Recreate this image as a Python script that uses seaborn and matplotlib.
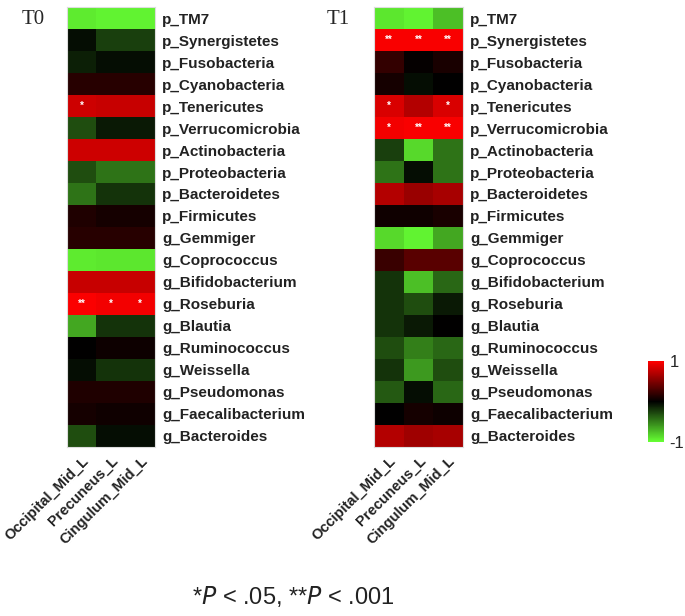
import numpy as np
import pandas as pd
import matplotlib
matplotlib.use('Agg')
import matplotlib.pyplot as plt
import seaborn as sns
from matplotlib.colors import LinearSegmentedColormap

# taxa (rows) and brain regions (columns)
taxa = ['p_TM7', 'p_Synergistetes', 'p_Fusobacteria', 'p_Cyanobacteria',
        'p_Tenericutes', 'p_Verrucomicrobia', 'p_Actinobacteria',
        'p_Proteobacteria', 'p_Bacteroidetes', 'p_Firmicutes', 'g_Gemmiger',
        'g_Coprococcus', 'g_Bifidobacterium', 'g_Roseburia', 'g_Blautia',
        'g_Ruminococcus', 'g_Weissella', 'g_Pseudomonas',
        'g_Faecalibacterium', 'g_Bacteroides']
regions = ['Occipital_Mid_L', 'Precuneus_L', 'Cingulum_Mid_L']

# correlations at T0
t0_occipital = [-0.92, -0.05, -0.12, 0.15, 0.80, -0.30, 0.80, -0.30, -0.45, 0.12,
                0.15, -0.92, 0.78, 0.98, -0.65, 0.00, -0.05, 0.12, 0.08, -0.30]
t0_precuneus = [-0.95, -0.25, -0.05, 0.15, 0.78, -0.10, 0.80, -0.45, -0.20, 0.08,
                0.15, -0.90, 0.78, 0.95, -0.20, 0.05, -0.20, 0.12, 0.06, -0.05]
t0_cingulum = [-0.95, -0.25, -0.05, 0.15, 0.78, -0.10, 0.80, -0.45, -0.20, 0.08,
               0.15, -0.90, 0.78, 0.95, -0.20, 0.05, -0.20, 0.12, 0.06, -0.05]

# correlations at T1
t1_occipital = [-0.90, 0.97, 0.20, 0.08, 0.85, 0.95, -0.25, -0.45, 0.70, 0.06,
                -0.85, 0.22, -0.20, -0.20, -0.20, -0.30, -0.20, -0.35, 0.00, 0.70]
t1_precuneus = [-0.95, 0.97, 0.02, -0.05, 0.70, 0.97, -0.85, -0.05, 0.60, 0.06,
                -0.95, 0.35, -0.75, -0.30, -0.10, -0.50, -0.60, -0.05, 0.08, 0.62]
t1_cingulum = [-0.75, 0.97, 0.10, 0.00, 0.85, 0.97, -0.45, -0.45, 0.65, 0.10,
               -0.65, 0.35, -0.40, -0.10, 0.00, -0.40, -0.30, -0.40, 0.05, 0.65]

# significance marks
t0_stars = {('p_Tenericutes', 'Occipital_Mid_L'): '*',
            ('g_Roseburia', 'Occipital_Mid_L'): '**',
            ('g_Roseburia', 'Precuneus_L'): '*',
            ('g_Roseburia', 'Cingulum_Mid_L'): '*'}
t1_stars = {('p_Synergistetes', 'Occipital_Mid_L'): '**',
            ('p_Synergistetes', 'Precuneus_L'): '**',
            ('p_Synergistetes', 'Cingulum_Mid_L'): '**',
            ('p_Tenericutes', 'Occipital_Mid_L'): '*',
            ('p_Tenericutes', 'Cingulum_Mid_L'): '*',
            ('p_Verrucomicrobia', 'Occipital_Mid_L'): '*',
            ('p_Verrucomicrobia', 'Precuneus_L'): '**',
            ('p_Verrucomicrobia', 'Cingulum_Mid_L'): '**'}


def make_frame(a, b, c):
    return pd.DataFrame({regions[0]: a, regions[1]: b, regions[2]: c}, index=taxa)


def make_stars(marks):
    lab = pd.DataFrame('', index=taxa, columns=regions)
    for (row, col), s in marks.items():
        lab.loc[row, col] = s
    return lab


sns.set_style('white')
plt.rcParams['font.family'] = ['Liberation Sans', 'DejaVu Sans']

cmap = LinearSegmentedColormap.from_list('gkr', ['#66ff33', '#000000', '#ff0000'])

fig = plt.figure(figsize=(6.85, 6.16), dpi=100)
ax0 = fig.add_axes([0.0978, 0.2744, 0.1285, 0.7142])
ax1 = fig.add_axes([0.546, 0.2744, 0.130, 0.7142])
cax = fig.add_axes([0.946, 0.2825, 0.0234, 0.1315])

star_kws = {'color': 'white', 'fontsize': 7, 'fontweight': 'bold'}

sns.heatmap(make_frame(t0_occipital, t0_precuneus, t0_cingulum), ax=ax0, cmap=cmap,
            vmin=-1, vmax=1, cbar=False, annot=make_stars(t0_stars), fmt='',
            annot_kws=star_kws)
sns.heatmap(make_frame(t1_occipital, t1_precuneus, t1_cingulum), ax=ax1, cmap=cmap,
            vmin=-1, vmax=1, cbar_ax=cax, annot=make_stars(t1_stars), fmt='',
            annot_kws=star_kws, cbar_kws={'ticks': [-1, 1]})

for ax in (ax0, ax1):
    ax.yaxis.tick_right()
    ax.set_yticks(np.arange(len(taxa)) + 0.5)
    ax.set_yticklabels(taxa, rotation=0, fontsize=11, fontweight='bold', color='#222222')
    ax.set_xticklabels(regions, rotation=45, ha='right', rotation_mode='anchor',
                       fontsize=10.5, fontweight='bold', color='#222222')
    ax.tick_params(axis='both', length=0, pad=5)
    ax.set_xlabel('')
    ax.set_ylabel('')
    for sp in ax.spines.values():
        sp.set_visible(True)
        sp.set_color('#dddddd')
        sp.set_linewidth(0.8)

cax.tick_params(length=0, labelsize=12, pad=4)
cax.set_yticklabels(['-1', '1'])
ax1.collections[0].colorbar.outline.set_visible(False)

fig.text(0.032, 0.983, 'T0', family='Liberation Serif', fontsize=15, va='top')
fig.text(0.477, 0.983, 'T1', family='Liberation Serif', fontsize=15, va='top')

fig.text(0.429, 0.031, r'*$\it{P}$ < .05, **$\it{P}$ < .001', fontsize=17,
         ha='center', va='center', color='#222222')

fig.savefig('out.png', dpi=100)
